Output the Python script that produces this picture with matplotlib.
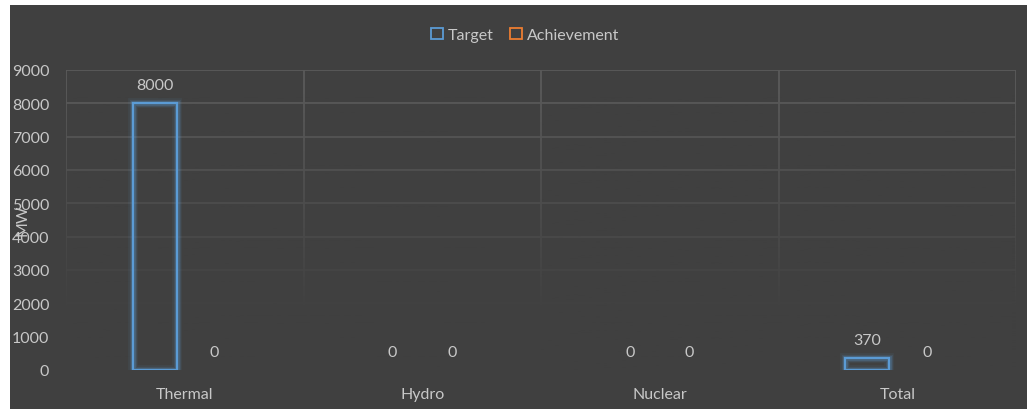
import matplotlib
matplotlib.use("Agg")
import matplotlib.pyplot as plt
import numpy as np
from matplotlib.patches import Patch, Rectangle

categories = ["Thermal", "Hydro", "Nuclear", "Total"]
target = [8000, 0, 0, 370]
achievement = [0, 0, 0, 0]
yticks = [0, 1000, 2000, 3000, 4000, 5000, 6000, 7000, 8000, 9000]

BG = "#404040"
TXT = "#C8C8C8"
BLUE = "#5B9BD5"
ORANGE = "#ED7D31"
GRID = "#5A5A5A"

plt.rcParams['font.family'] = ['Lato', 'DejaVu Sans']
FS = 11.5

W, H = 1027, 410
fig = plt.figure(figsize=(W / 100, H / 100), dpi=100, facecolor="white")
fig.patches.append(Rectangle((10 / W, 0), 1 - 10 / W, 1 - 6 / H, transform=fig.transFigure,
                             facecolor=BG, edgecolor="none", zorder=-10))

ax = fig.add_axes([66 / W, 39 / H, (1016 - 66) / W, 300 / H])
ax.set_facecolor(BG)
ax.patch.set_alpha(0)
n = len(categories)
x = np.arange(n)

# grid (horizontal + category separators)
for yv in yticks[1:]:
    ax.axhline(yv, color=GRID, lw=1.3, zorder=1)
for b in np.arange(-0.5, n, 1.0):
    ax.axvline(b, color=GRID, lw=1.3, zorder=1)

# fade grid towards bottom
grad = np.zeros((256, 1, 4))
r, g, bl = [int(BG[i:i + 2], 16) / 255 for i in (1, 3, 5)]
grad[..., 0], grad[..., 1], grad[..., 2] = r, g, bl
grad[:, 0, 3] = np.clip(1.25 - np.linspace(0, 1, 256) * 1.35, 0, 1)
ax.imshow(grad, extent=[-0.5, n - 0.5, 0, 9000], aspect="auto", origin="lower", zorder=1.5)
ax.set_xlim(-0.5, n - 0.5)
ax.set_ylim(0, 9000)

bw = 0.185
off = 0.126
for xs, vals, col in [(x - off, target, BLUE), (x + off, achievement, ORANGE)]:
    vals = np.asarray(vals)
    nz = vals > 0
    if nz.any():
        for lw, a in [(7, 0.08), (5, 0.13), (3.5, 0.22)]:
            ax.bar(xs[nz], vals[nz], width=bw, facecolor="none", edgecolor=col, linewidth=lw, alpha=a, zorder=2)
        ax.bar(xs[nz], vals[nz], width=bw, facecolor="none", edgecolor=col, linewidth=1.6, zorder=3)
    for xi, v in zip(xs, vals):
        ax.annotate(f"{v}", (xi, v), xytext=(0, 13), textcoords="offset points",
                    ha="center", va="center", color=TXT, fontsize=FS, zorder=4)

for s in ax.spines.values():
    s.set_visible(False)
ax.set_xticks(x)
ax.set_xticklabels(categories)
ax.set_yticks(yticks)
ax.set_yticklabels([str(v) for v in yticks])
ax.tick_params(axis="x", length=0, pad=12, colors=TXT, labelsize=FS)
ax.tick_params(axis="y", length=0, pad=12, colors=TXT, labelsize=FS)

fig.text(22 / W, 1 - 220 / H, "MW", rotation=90, ha="center", va="center", color=TXT, fontsize=FS)

handles = [Patch(facecolor="none", edgecolor=BLUE, linewidth=1.3, label="Target"),
           Patch(facecolor="none", edgecolor=ORANGE, linewidth=1.3, label="Achievement")]
fig.legend(handles=handles, loc="center", bbox_to_anchor=(525 / W, 1 - 36 / H), ncol=2,
           frameon=False, fontsize=FS, labelcolor=TXT, handlelength=0.75, handleheight=0.75,
           handletextpad=0.3, columnspacing=1.0)

fig.savefig("out.png", dpi=100, facecolor="white")
